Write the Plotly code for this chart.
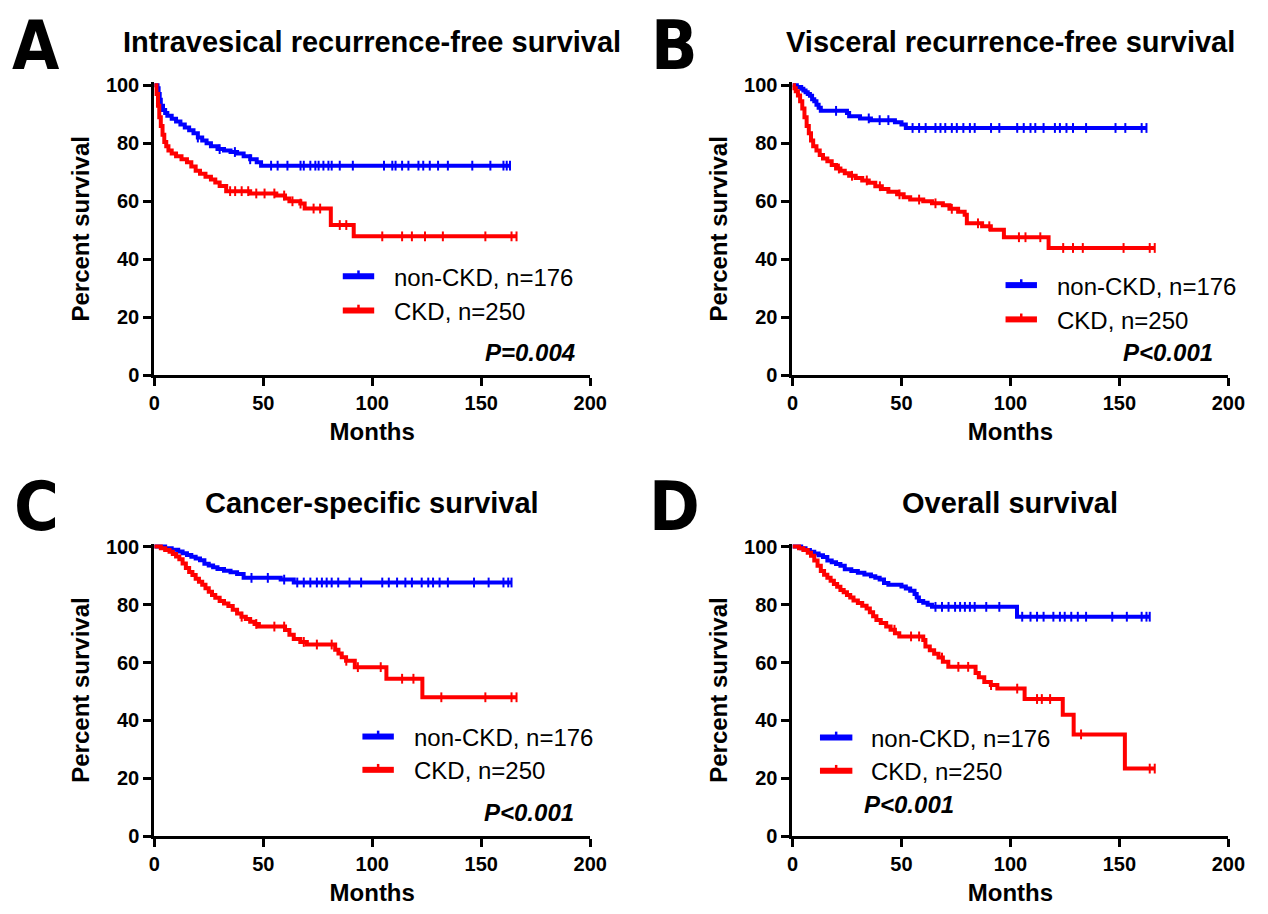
import numpy as np
import plotly.graph_objects as go

W, H = 1268, 914
BLUE = "#0000FF"
RED = "#FF0000"

# ---------------- text / categories ----------------
panel_letters = ["A", "B", "C", "D"]
panel_titles = ["Intravesical recurrence-free survival",
                "Visceral recurrence-free survival",
                "Cancer-specific survival",
                "Overall survival"]
p_texts = ["P=0.004", "P<0.001", "P<0.001", "P<0.001"]
group_labels = ["non-CKD, n=176", "CKD, n=250"]
x_title = "Months"
y_title = "Percent survival"
x_ticks = [0, 50, 100, 150, 200]
y_ticks = [0, 20, 40, 60, 80, 100]

# ---------------- data (step times, survival after step, censor times) ----------------
# Panel A: intravesical recurrence-free survival
A_non_t = [0, 1.5, 2, 2.5, 3, 4, 5, 6, 8, 10, 12, 14, 16, 18, 20, 22, 24, 26, 29, 32, 35, 38, 41, 44, 47, 49]
A_non_s = [100, 99, 97, 95, 93, 91.5, 90.5, 89.5, 88.5, 87.5, 86.5, 85.5, 84.5, 83.5, 82, 81, 80, 79, 78, 77.5, 77, 76.5, 75.5, 74.5, 73.5, 72.3]
A_non_c = [20, 30, 37, 44, 53.6, 56.6, 61.1, 67.1, 68.6, 71.6, 73.9, 75.4, 77.6, 79.9, 81.4, 85.1, 91.1, 105.4, 109.2,
           110.7, 113.7, 116.6, 121.2, 123.4, 126.4, 130.2, 134.7, 145.9, 154.2, 160.2, 161.7, 163.2]
A_ckd_t = [0, 1, 1.7, 2.3, 3, 3.8, 4.6, 5.5, 6.5, 8, 10, 12.5, 15, 17, 19, 21, 23.5, 26, 28, 30, 33, 44, 56, 60, 62, 67, 69, 81, 91.5]
A_ckd_s = [100, 97, 93, 89, 86, 83, 80.5, 79, 77.5, 76.5, 75.5, 74.5, 73.5, 72, 70.5, 69.5, 68.5, 67.5, 66.5, 65.3, 63.5, 62.7, 62, 61, 60, 59.2, 57.5, 51.8, 47.9]
A_ckd_c = [34.8, 37.1, 40.1, 43.1, 46.8, 50.6, 55.1, 59.6, 63.4, 67.1, 73.1, 76.1, 85.1, 88.1, 104.6, 113.7, 118.2, 124.2, 132.4, 151.9, 163.9, 166.2]

# Panel B: visceral recurrence-free survival
B_non_t = [0, 2, 4, 5, 6, 7, 8, 9, 10, 11, 12, 13, 25, 26, 31, 36, 47, 50, 52]
B_non_s = [100, 99.4, 98.8, 98.2, 97.6, 97, 96.4, 95.2, 94.5, 93.3, 92.3, 91.2, 90.5, 89.3, 88.6, 88, 87.3, 86.5, 85.3]
B_non_c = [20, 35, 40, 44, 55.1, 58.1, 61.1, 65.6, 67.9, 70.1, 73.1, 75.4, 78.4, 81.4, 83.6, 91.1, 94.9, 103.1, 106.1,
           109.2, 111.4, 115.2, 120.4, 122.7, 125.7, 128.7, 134.7, 148.2, 152.7, 160.2, 162.4]
B_ckd_t = [0, 0.7, 1.5, 2.5, 3.5, 4.5, 5.5, 6.5, 7.5, 8.5, 9.5, 11, 12.5, 14, 16, 18, 20, 22, 24, 26, 29, 32, 35, 38, 41, 44,
           48, 51, 54, 60, 64, 69, 72, 76, 79, 80, 87, 91, 97, 117.5]
B_ckd_s = [100, 99, 98, 96.5, 94.5, 92, 89, 86, 83.5, 81, 79, 77.5, 76, 74.8, 73.8, 72.5, 71.3, 70.5, 69.7, 68.8, 68, 67.2,
           66.4, 65.2, 64.2, 63.3, 62.4, 61.4, 60.6, 60, 59.3, 58.6, 57.4, 56.4, 55.4, 52.4, 51.4, 50.2, 47.6, 43.9]
B_ckd_c = [21.3, 27.3, 34.1, 40.1, 49.1, 58.1, 65.6, 73.1, 85.1, 90.3, 103.9, 106.9, 113.7, 124.2, 128.7, 133.2, 151.9, 163.9, 166.2]

# Panel C: cancer-specific survival
C_non_t = [0, 5, 8, 11, 13, 15, 17, 19, 21, 23, 25, 27, 29, 32, 35, 38, 41, 58, 64]
C_non_s = [100, 99.4, 98.9, 98.3, 97.7, 97.1, 96.5, 95.9, 95.3, 94.1, 93.5, 92.9, 92.3, 91.7, 91.1, 90.5, 89.2, 88.6, 87.6]
C_non_c = [44.6, 52.1, 59.6, 65.6, 68.6, 71.6, 74.6, 76.9, 79.1, 81.4, 84.4, 89.6, 94.9, 104.6, 107.6, 111.4, 115.2, 118.2,
           122.7, 125.7, 127.9, 130.9, 134.7, 146.7, 153.4, 160.2, 162.4, 163.9]
C_ckd_t = [0, 3, 5, 7, 8.5, 10, 11.5, 13, 14.5, 16, 17.5, 19, 20.5, 22, 23.5, 25, 26.5, 28, 30, 32, 34, 36, 38, 40, 42, 44,
           46, 48, 60, 62, 64, 67, 70, 83, 84.5, 86, 88, 92, 106.5, 123]
C_ckd_s = [100, 99.4, 98.8, 98.2, 97.4, 96.6, 95.6, 94.2, 92.6, 91.2, 90.2, 88.9, 87.9, 86.8, 85.6, 84.4, 83.3, 82.3, 81.2,
           80.4, 79.5, 78.2, 76.9, 75.8, 75, 74.1, 73.3, 72.4, 71.2, 69.6, 68.1, 67.1, 66.2, 64.4, 63.1, 61.8, 60.6, 58.4, 54.4, 48]
C_ckd_c = [40.1, 46.8, 55.1, 59.6, 68.6, 74.6, 81.4, 88.1, 93.4, 103.9, 113.7, 118.9, 131.7, 151.9, 163.9, 166.2]

# Panel D: overall survival
D_non_t = [0, 4, 6, 8, 10, 12, 14, 16, 18, 20, 22, 24, 27, 30, 33, 36, 38, 40, 42, 44, 50, 52, 54, 56, 57, 58, 60, 62, 64, 103]
D_non_s = [100, 99.4, 98.8, 98.2, 97.6, 97, 96.4, 95.2, 94.6, 94, 93.4, 92.2, 91.6, 91, 90.4, 89.8, 89.2, 88.6, 87.4, 86.8,
           86.2, 85.5, 84.8, 83.6, 82.4, 81.2, 80.6, 79.9, 79.2, 75.8]
D_non_c = [65.6, 68.6, 71.6, 74.6, 76.9, 79.1, 81.4, 83.6, 88.9, 94.9, 105.4, 109.2, 112.2, 115.2, 119.7, 122.7, 124.9,
           127.9, 130.9, 134.7, 146.7, 153.4, 160.2, 162.4, 163.9]
D_ckd_t = [0, 3, 5, 7, 8.5, 10, 11.5, 13, 14.5, 16, 17.5, 19, 20.5, 22, 23.5, 25, 26.5, 28, 30, 32, 34, 35.5, 37, 38.5, 40.5,
           43, 45, 47, 49, 60, 61, 63, 65, 67, 69, 71.5, 84, 85.5, 88, 91, 94, 106.5, 124, 129, 152.5]
D_ckd_s = [100, 99.4, 98.8, 97.9, 96.8, 95.2, 93.4, 91.6, 90.3, 89.2, 88.2, 87.1, 86.1, 85, 84.2, 83.3, 82.4, 81.4, 80.5,
           79.6, 78.6, 77.3, 76, 74.7, 73.6, 72.4, 71.3, 70.1, 69, 67.8, 65.5, 64.2, 63, 61.7, 60.3, 58.5, 56.4, 54.9, 53.3,
           52.2, 51, 47.4, 42, 35.2, 23.4]
D_ckd_c = [46.8, 54.4, 58.1, 68.6, 76.1, 80.6, 91.1, 103.1, 112.2, 114.4, 118.2, 132.4, 163.9, 166.2]

panels_data = [
    [(A_non_t, A_non_s, A_non_c), (A_ckd_t, A_ckd_s, A_ckd_c)],
    [(B_non_t, B_non_s, B_non_c), (B_ckd_t, B_ckd_s, B_ckd_c)],
    [(C_non_t, C_non_s, C_non_c), (C_ckd_t, C_ckd_s, C_ckd_c)],
    [(D_non_t, D_non_s, D_non_c), (D_ckd_t, D_ckd_s, D_ckd_c)],
]
colors = [BLUE, RED]

# ---------------- layout geometry (pixels) ----------------
x_px = [(151, 595), (801, 1245), (151, 595), (801, 1245)]
y0_px = [375, 375, 846, 846]
PX_PER_UNIT_Y = 2.96
Y_TOP = 101
title_y_px = [35, 35, 506, 506]
letter_px = [(31, 38), (681, 38), (31, 509), (681, 509)]
legend_px = [  # line x0, line x1, row1 y, row2 y, text x
    (343, 375, 274, 309, 393),
    (1018, 1050, 283, 318, 1068),
    (363, 395, 744, 778, 413),
    (829, 862, 745, 779, 879),
]
p_px = [(582, 352, "right"), (1231, 352, "right"), (581, 822, "right"), (872, 813, "left")]

FONT = "Liberation Sans, Arial, Helvetica, sans-serif"


def px(x):
    return x / W


def py(y):
    return 1 - y / H


def surv_at(T, S, t):
    idx = np.searchsorted(np.asarray(T), t, side="right") - 1
    return np.asarray(S)[idx]


fig = go.Figure()
layout = dict(
    width=W, height=H, margin=dict(l=0, r=0, t=0, b=0),
    paper_bgcolor="white", plot_bgcolor="white", showlegend=False,
    font=dict(family=FONT, color="black"),
)
annotations = []
shapes = []

for i in range(4):
    n = "" if i == 0 else str(i + 1)
    xa, ya = "x" + n, "y" + n
    x0p, x1p = x_px[i]
    ybot = y0_px[i]
    ytop = ybot - PX_PER_UNIT_Y * Y_TOP
    axis_common = dict(showline=True, linewidth=3, linecolor="black", ticks="outside", ticklen=8,
                       tickwidth=3, tickcolor="black", showgrid=False, zeroline=False,
                       tickfont=dict(size=20, family=FONT, weight="bold", color="black"),
                       title_font=dict(size=24, family=FONT, weight="bold", color="black"))
    layout["xaxis" + n] = dict(axis_common, domain=[px(x0p), px(x1p)], range=[0, 200], anchor=ya,
                              tickvals=x_ticks, ticktext=[str(v) for v in x_ticks],
                              title=dict(text=x_title, standoff=10))
    layout["yaxis" + n] = dict(axis_common, domain=[py(ybot), py(ytop)], range=[0, Y_TOP], anchor=xa,
                              tickvals=y_ticks, ticktext=[str(v) for v in y_ticks],
                              title=dict(text=y_title, standoff=10))

    for g, (T, S, C) in enumerate(panels_data[i]):
        end = max(max(C), T[-1])
        fig.add_trace(go.Scatter(
            x=list(T) + [end], y=list(S) + [S[-1]], mode="lines", xaxis=xa, yaxis=ya,
            line=dict(color=colors[g], width=4, shape="hv"), name=group_labels[g], hoverinfo="skip"))
        fig.add_trace(go.Scatter(
            x=C, y=surv_at(T, S, C), mode="markers", xaxis=xa, yaxis=ya, cliponaxis=False,
            marker=dict(symbol="line-ns", size=7, color=colors[g], line=dict(color=colors[g], width=2)),
            name=group_labels[g] + " censored", hoverinfo="skip"))

    annotations.append(dict(text=panel_titles[i], x=px((x0p + x1p) / 2), y=py(title_y_px[i]),
                            xref="paper", yref="paper", xanchor="center", yanchor="middle", showarrow=False,
                            font=dict(size=29, family=FONT, weight="bold", color="black")))
    lx, ly = letter_px[i]
    annotations.append(dict(text=panel_letters[i], x=px(lx), y=py(ly), xref="paper", yref="paper",
                            xanchor="center", yanchor="middle", showarrow=False,
                            font=dict(size=68, family="Liberation Sans Narrow, DejaVu Sans Condensed, " + FONT,
                                      weight="bold", color="black")))
    lx0, lx1, r1, r2, tx = legend_px[i]
    for g, ry in enumerate([r1, r2]):
        shapes.append(dict(type="line", xref="paper", yref="paper", x0=px(lx0), x1=px(lx1), y0=py(ry), y1=py(ry),
                           line=dict(color=colors[g], width=6)))
        mid = (lx0 + lx1) / 2
        shapes.append(dict(type="line", xref="paper", yref="paper", x0=px(mid), x1=px(mid), y0=py(ry - 6),
                           y1=py(ry), line=dict(color=colors[g], width=2.5)))
        annotations.append(dict(text=group_labels[g], x=px(tx), y=py(ry + 1), xref="paper", yref="paper",
                                xanchor="left", yanchor="middle", showarrow=False,
                                font=dict(size=24, family=FONT, color="black")))
    ppx, ppy, anc = p_px[i]
    annotations.append(dict(text="<b><i>" + p_texts[i].replace("<", "&lt;") + "</i></b>", x=px(ppx), y=py(ppy),
                            xref="paper", yref="paper", xanchor=anc, yanchor="middle", showarrow=False,
                            font=dict(size=24, family=FONT, color="black")))

layout["annotations"] = annotations
layout["shapes"] = shapes
fig.update_layout(**layout)
fig.write_html("out.html", config={"displayModeBar": False},
               post_script="document.body.style.margin='0';document.body.style.overflow='hidden';")
